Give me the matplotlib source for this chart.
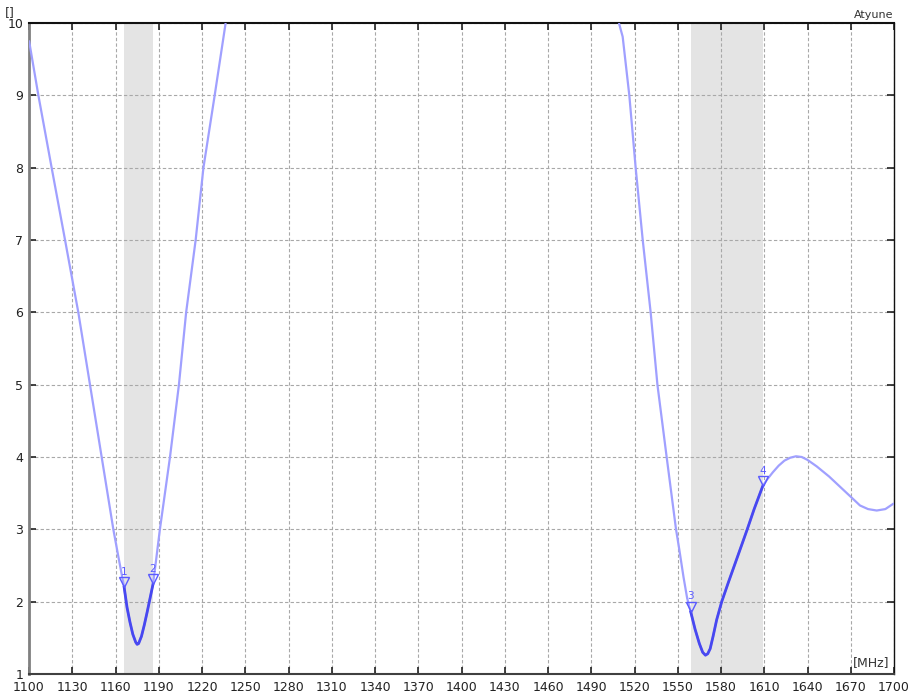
import numpy as np
import matplotlib
matplotlib.use("Agg")
import matplotlib.pyplot as plt
from matplotlib.transforms import offset_copy

# ---- data ----
freq = [1100, 1106.5, 1115.7, 1125, 1134.2, 1142.3, 1150.4, 1158.5, 1162, 1166,
        1168, 1170, 1172, 1174, 1175, 1176, 1178, 1180, 1182, 1184, 1186,
        1188, 1190.8, 1197.8, 1204, 1209, 1215.6, 1221.0, 1228.8, 1236.4,
        np.nan,
        1509.2, 1511.8, 1516.4, 1520.8, 1525.7, 1531.2, 1535.9, 1542.3, 1548.8,
        1551, 1554, 1556.5, 1559, 1562, 1565, 1567.3, 1569.2, 1570.8, 1572.5,
        1574.5, 1577, 1580.5, 1585, 1590, 1595, 1598.2, 1603, 1609, 1612, 1616,
        1620, 1624, 1628, 1632, 1636, 1640, 1646.4, 1655, 1662.5, 1670, 1676.4,
        1682, 1688, 1694, 1700]
value = [9.76, 9.0, 8.0, 7.0, 6.0, 5.0, 4.0, 3.0, 2.62, 2.2,
         1.92, 1.72, 1.55, 1.44, 1.41, 1.42, 1.52, 1.68, 1.86, 2.05, 2.24,
         2.55, 3.0, 4.0, 5.0, 6.0, 7.0, 8.0, 9.0, 10.0,
         np.nan,
         10.0, 9.81, 9.0, 8.0, 7.0, 6.0, 5.0, 4.0, 3.0,
         2.73, 2.34, 2.05, 1.86, 1.62, 1.42, 1.3, 1.26, 1.28, 1.35,
         1.52, 1.75, 2.0, 2.26, 2.54, 2.82, 3.0, 3.28, 3.6, 3.69, 3.79,
         3.88, 3.95, 3.99, 4.01, 4.0, 3.96, 3.87, 3.73, 3.59, 3.45, 3.33,
         3.28, 3.26, 3.28, 3.36]
bands = [(1166, 1186), (1559, 1609)]
marker_labels = ["1", "2", "3", "4"]
marker_freq = [1166, 1186, 1559, 1609]
marker_val = [2.2, 2.24, 1.86, 3.6]
xticks = list(range(1100, 1701, 30))
yticks = list(range(1, 11))

light = "#a0a0ff"
dark = "#4848f0"

fig = plt.figure(figsize=(9.12, 6.97), dpi=100)
ax = fig.add_axes([29/912, 1-674/697, (894-29)/912, (674-23)/697])
ax.set_xlim(1100, 1700)
ax.set_ylim(1, 10)

for a, b in bands:
    ax.axvspan(a, b, color="#e4e4e4", zorder=0, lw=0)

ax.set_xticks(xticks)
ax.set_yticks(yticks)
ax.grid(True, color="#a8a8a8", linestyle=(0, (3, 2)), linewidth=0.8)
ax.set_axisbelow(True)

f = np.array(freq, dtype=float)
v = np.array(value, dtype=float)
ax.plot(f, v, color=light, lw=1.6, zorder=3, solid_capstyle="butt",
        solid_joinstyle="round")
for a, b in bands:
    m = (f >= a) & (f <= b)
    ax.plot(f[m], v[m], color=dark, lw=2.0, zorder=4, solid_joinstyle="round")

tr = offset_copy(ax.transData, fig=fig, x=0, y=3.5, units="points")
trt = offset_copy(ax.transData, fig=fig, x=0, y=7.5, units="points")
for lab, mf, mv in zip(marker_labels, marker_freq, marker_val):
    ax.plot([mf], [mv], marker="v", markersize=7, markerfacecolor="none",
            markeredgecolor="#5a5aff", markeredgewidth=1.0, transform=tr, zorder=5)
    ax.text(mf, mv, lab, transform=trt, ha="center", va="bottom",
            fontsize=7.5, color="#5a5aff", zorder=5)

ax.tick_params(axis="both", which="both", direction="in", length=5, width=1.2,
               top=True, right=True, labelsize=9, colors="#222222", pad=4)
ax.tick_params(axis="x", pad=5)
ax.spines["left"].set_color("#808080")
ax.spines["left"].set_linewidth(2)
ax.spines["bottom"].set_color("#404040")
ax.spines["bottom"].set_linewidth(1.5)
ax.spines["top"].set_color("#111111")
ax.spines["top"].set_linewidth(1.5)
ax.spines["right"].set_color("#111111")
ax.spines["right"].set_linewidth(1.0)

fig.text(5/912, 1-13/697, "[]", fontsize=9, color="#333333", ha="left", va="center")
fig.text(893/912, 1-15/697, "Atyune", fontsize=8, color="#333333", ha="right", va="center")
ax.text(0.995, 0.008, "[MHz]", transform=ax.transAxes, fontsize=9, color="#333333",
        ha="right", va="bottom", zorder=6,
        bbox=dict(facecolor="white", edgecolor="none", pad=1))

fig.savefig("out.png", dpi=100)
